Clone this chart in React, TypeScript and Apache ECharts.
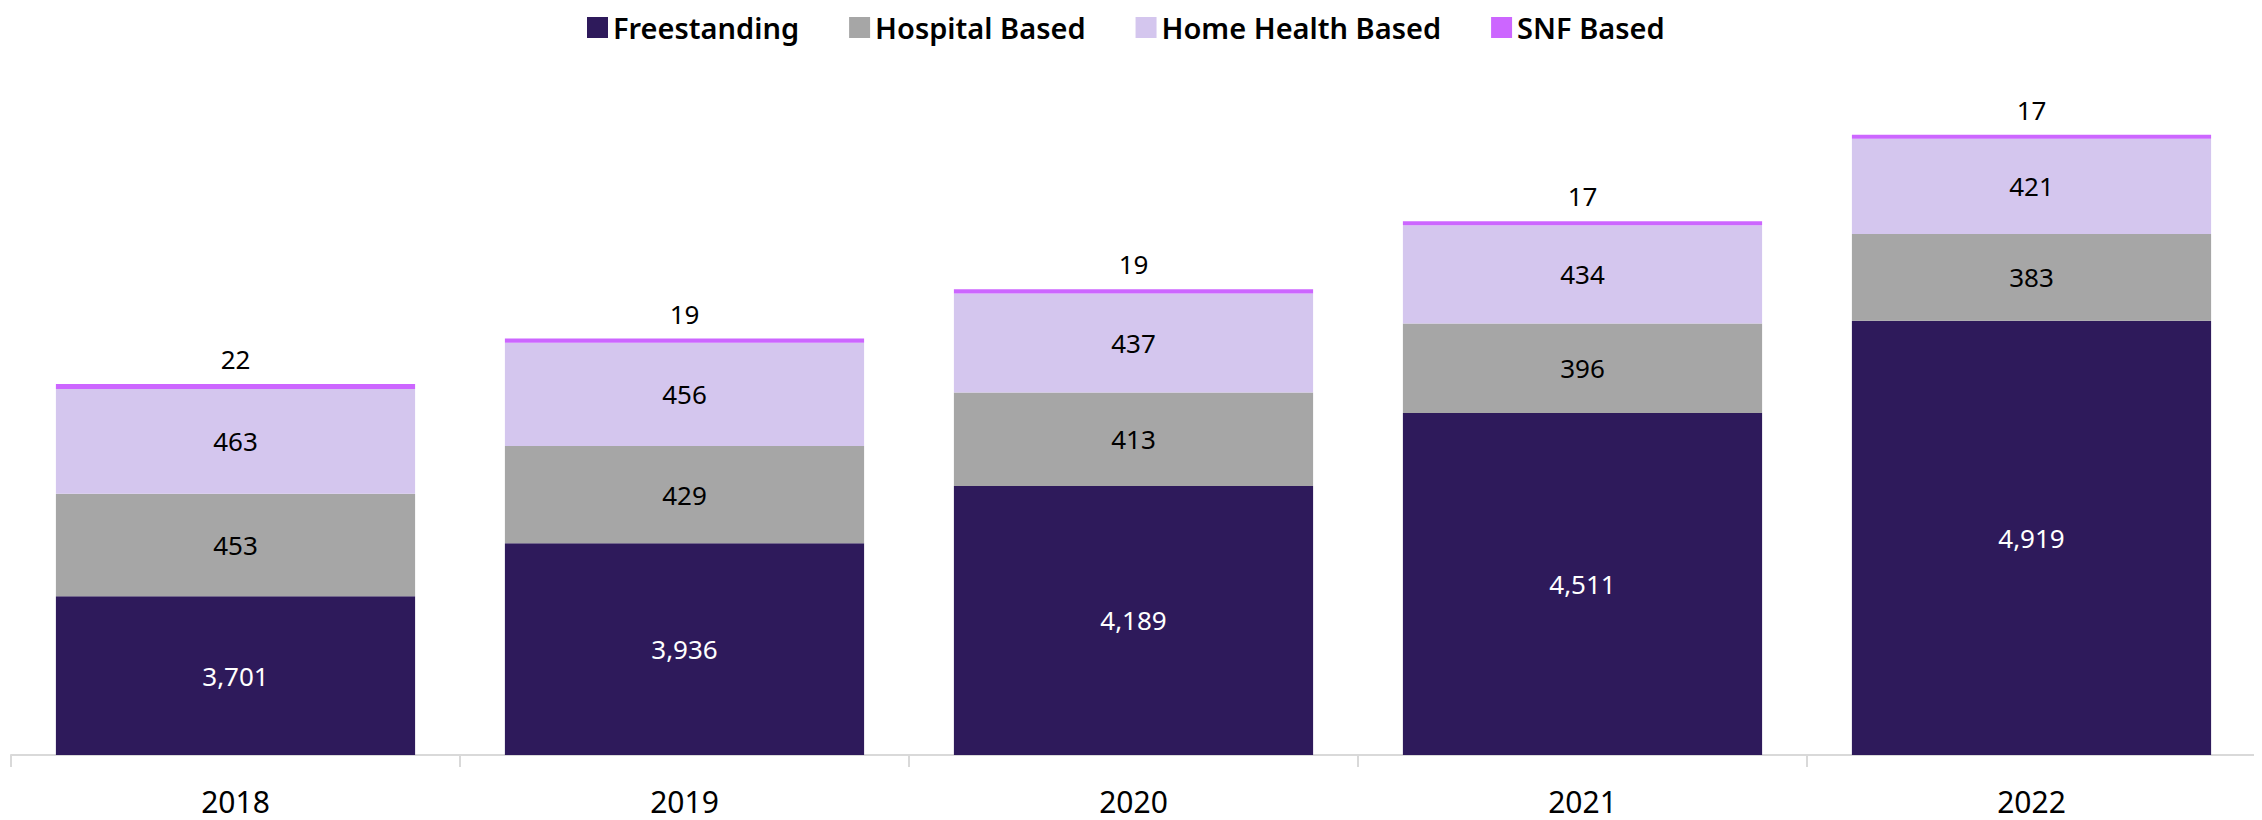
import React, { useEffect, useRef } from "react";
import * as echarts from "echarts";

const years = ["2018", "2019", "2020", "2021", "2022"];
const freestanding = [3701, 3936, 4189, 4511, 4919];
const hospitalBased = [453, 429, 413, 396, 383];
const homeHealthBased = [463, 456, 437, 434, 421];
const snfBased = [22, 19, 19, 17, 17];
const seriesNames = ["Freestanding", "Hospital Based", "Home Health Based", "SNF Based"];

const FONT = "'Noto Sans', 'Open Sans', sans-serif";
const fmt = (v: number) => v.toLocaleString("en-US");

export default function App() {
  const ref = useRef<HTMLDivElement>(null);
  useEffect(() => {
    if (!ref.current) return;
    const chart = echarts.init(ref.current, undefined, { renderer: "svg" });
    const mk = (name: string, data: number[], color: string, labelColor: string, pos: any) => ({
      name,
      type: "bar",
      stack: "total",
      data,
      barCategoryGap: "20%",
      itemStyle: { color },
      clip: true,
      label: {
        show: true,
        position: pos,
        distance: 12,
        color: labelColor,
        fontSize: 26,
        fontFamily: FONT,
        formatter: (p: any) => fmt(p.value),
      },
    });
    chart.setOption({
      animation: false,
      textStyle: { fontFamily: FONT },
      legend: {
        top: 0,
        left: 574,
        icon: "rect",
        itemWidth: 21,
        itemHeight: 21,
        itemGap: 50,
        textStyle: { fontSize: 29, fontWeight: 600, color: "#000", fontFamily: FONT },
        data: seriesNames,
      },
      grid: { left: 3, right: 0, top: 68, bottom: 65 },
      xAxis: {
        type: "category",
        data: years,
        axisLine: { lineStyle: { color: "#d9d9d9", width: 2 } },
        axisTick: { show: true, length: 12, lineStyle: { color: "#d9d9d9", width: 2 } },
        axisLabel: { fontSize: 30, color: "#000", margin: 31, fontFamily: FONT },
      },
      yAxis: {
        type: "value",
        min: 3000,
        max: 6000,
        show: false,
        splitLine: { show: false },
      },
      series: [
        mk("Freestanding", freestanding, "#2e1a5b", "#fff", "inside"),
        mk("Hospital Based", hospitalBased, "#a6a6a6", "#000", "inside"),
        mk("Home Health Based", homeHealthBased, "#d4c6ee", "#000", "inside"),
        mk("SNF Based", snfBased, "#cc66ff", "#000", "top"),
      ],
    });
    return () => chart.dispose();
  }, []);
  return <div ref={ref} style={{ width: 2248, height: 812 }} />;
}
